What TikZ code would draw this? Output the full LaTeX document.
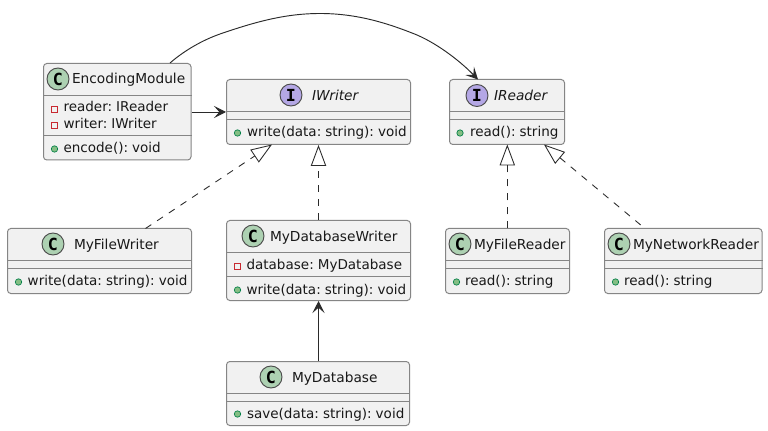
\documentclass[tikz,border=0pt]{standalone}
\usepackage{fontspec}
\setmainfont{DejaVu Sans}
\newfontfamily\iconfont{DejaVu Sans Mono}[BoldFont=* Bold]
\newfontfamily\memberfont{DejaVu Sans}[WordSpace=0.6]
\usetikzlibrary{arrows.meta,calc}
\definecolor{boxfill}{HTML}{F1F1F1}
\definecolor{boxline}{HTML}{858585}
\definecolor{inkc}{HTML}{2A2A2A}
\definecolor{cgreen}{HTML}{ADD1B2}
\definecolor{ipurple}{HTML}{B4A7E5}
\definecolor{privred}{HTML}{C82930}
\definecolor{publine}{HTML}{038048}
\definecolor{pubfill}{HTML}{84BE84}
\tikzset{
 x=0.75pt,y=-0.75pt,
 classbox/.style={draw=boxline,fill=boxfill,line width=0.75pt,rounded corners=2.5pt,inner sep=0pt},
 sepline/.style={draw=boxline,line width=0.75pt},
 txt/.style={anchor=base west,inner sep=0pt,outer sep=0pt,text=black!90,font=\memberfont\fontsize{10.15}{12}\selectfont},
 ttl/.style={txt,font=\fontsize{10.3}{12}\selectfont},
 ititle/.style={txt,font=\fontsize{10.3}{12}\selectfont\itshape},
 badge/.style={circle,draw=inkc!85,line width=0.7pt,minimum size=16.5pt,inner sep=0pt,font=\iconfont\bfseries\fontsize{12.5}{12}\selectfont,text=black},
 cbadge/.style={badge,fill=cgreen},
 ibadge/.style={badge,fill=ipurple},
 priv/.style={draw=privred,line width=0.6pt,fill=none,minimum size=4.6pt,inner sep=0pt},
 pub/.style={circle,draw=publine,line width=0.5pt,fill=pubfill,minimum size=4.8pt,inner sep=0pt},
 assoc/.style={draw=inkc,line width=0.7pt,-{Stealth[length=9pt,width=9pt,inset=4pt]}},
 real/.style={draw=inkc,line width=0.65pt,dash pattern=on 5.25pt off 5.25pt,-{Triangle[open,length=15.75pt,width=11.5pt,fill=none]}},
}
\newcommand{\umlbox}[5]{\node[classbox,minimum width={(#4-#2)*0.75pt},minimum height={(#5-#3)*0.75pt}] (#1) at ({(#2+#4)/2},{(#3+#5)/2}) {};}
\newcommand{\seps}[3]{\draw[sepline] (#1.west |- 0,#2) -- (#1.east |- 0,#2); \draw[sepline] (#1.west |- 0,#3) -- (#1.east |- 0,#3);}
\begin{document}
\begin{tikzpicture}
\useasboundingbox (0,0) rectangle (768,431);
\fill[white] (0,0) rectangle (768,431);

% boxes
\umlbox{enc}{43.5}{63.5}{191}{160}
\seps{enc}{95.5}{135.5}
\umlbox{iw}{226.5}{79.5}{410.5}{144.5}
\seps{iw}{111.5}{119.5}
\umlbox{ir}{449.5}{79.5}{564.5}{144.5}
\seps{ir}{111.5}{119.5}
\umlbox{mfw}{7.5}{228.5}{191.5}{293.5}
\seps{mfw}{260.5}{268.5}
\umlbox{mdw}{226.5}{220.5}{410.5}{300.5}
\seps{mdw}{252.5}{276.5}
\umlbox{mfr}{445.5}{228.5}{569.5}{293.5}
\seps{mfr}{260.5}{268.5}
\umlbox{mnr}{604.5}{228.5}{762}{293.5}
\seps{mnr}{260.5}{268.5}
\umlbox{mdb}{226.5}{361.5}{409.5}{425.5}
\seps{mdb}{393.5}{401.5}

% EncodingModule
\node[cbadge] (encB) at (58,79) {C};
\node[ttl] (encT) at (72,84) {EncodingModule};
\node[priv] (encP1) at (54.4,109.3) {};
\node[txt] (encM1) at (63.5,112) {reader: IReader};
\node[priv] (encP2) at (54.4,125.3) {};
\node[txt] (encM2) at (63.5,128.5) {writer: IWriter};
\node[pub] (encP3) at (54.5,149) {};
\node[txt] (encM3) at (63.5,153) {encode(): void};
% IWriter
\node[ibadge] (iwB) at (291,95) {I};
\node[ititle] (iwT) at (312,100.5) {IWriter};
\node[pub] (iwP) at (237.5,133) {};
\node[txt] (iwM) at (247,137) {write(data: string): void};
% IReader
\node[ibadge] (irB) at (477,95.5) {I};
\node[ititle] (irT) at (494,100.5) {IReader};
\node[pub] (irP) at (460,133) {};
\node[txt] (irM) at (470,137) {read(): string};
% MyFileWriter
\node[cbadge] (mfwB) at (53,244) {C};
\node[ttl] (mfwT) at (74,250) {MyFileWriter};
\node[pub] (mfwP) at (18.5,282) {};
\node[txt] (mfwM) at (27.7,286) {write(data: string): void};
% MyDatabaseWriter
\node[cbadge] (mdwB) at (253,236) {C};
\node[ttl] (mdwT) at (270,241.5) {MyDatabaseWriter};
\node[priv] (mdwP1) at (237.5,266) {};
\node[txt] (mdwM1) at (246.5,269) {database: MyDatabase};
\node[pub] (mdwP2) at (237.5,290) {};
\node[txt] (mdwM2) at (246.5,294) {write(data: string): void};
% MyFileReader
\node[cbadge] (mfrB) at (460,244) {C};
\node[ttl] (mfrT) at (474,250) {MyFileReader};
\node[pub] (mfrP) at (456.5,282) {};
\node[txt] (mfrM) at (465,286) {read(): string};
% MyNetworkReader
\node[cbadge] (mnrB) at (619,244) {C};
\node[ttl] (mnrT) at (633,250) {MyNetworkReader};
\node[pub] (mnrP) at (615.5,282) {};
\node[txt] (mnrM) at (624,286) {read(): string};
% MyDatabase
\node[cbadge] (mdbB) at (271,377) {C};
\node[ttl] (mdbT) at (292,382.5) {MyDatabase};
\node[pub] (mdbP) at (237.5,414) {};
\node[txt] (mdbM) at (247,418) {save(data: string): void};

% connectors
\coordinate (encTop) at (170,63);
\coordinate (irTop) at (478,79.5);
\coordinate (encR) at (enc.east |- 0,112);
\draw[assoc] (encTop) .. controls (185,50) and (203,40) .. (220,34) .. controls (255,22) and (285,13.5) .. (320,13.5) .. controls (355,13.5) and (385,22) .. (417,35) .. controls (440,45) and (462,63) .. (irTop);
\draw[assoc] (encR) -- (iw.west |- encR);
\coordinate (mfwTop) at (145.5,228.5);
\coordinate (iwBotL) at (272,144.5);
\draw[real] (mfwTop) -- (iwBotL);
\draw[real] (mdw.north) -- (iw.south);
\coordinate (mfrTop) at (507.3,228.5);
\coordinate (irBotM) at (507.3,144.5);
\draw[real] (mfrTop) -- (irBotM);
\coordinate (mnrTop) at (640.7,225);
\coordinate (irBotR) at (544,144.5);
\draw[real] (mnrTop) -- (irBotR);
\draw[assoc] (mdb.north -| mdw.south) -- (mdw.south);
\end{tikzpicture}
\end{document}
